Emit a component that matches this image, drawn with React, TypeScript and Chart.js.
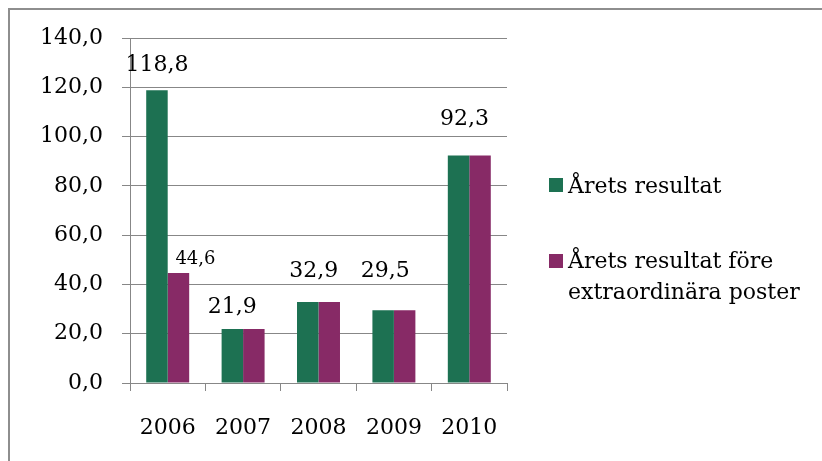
import React, { useEffect, useRef } from 'react';
import { Chart, registerables } from 'chart.js';

Chart.register(...registerables);

// ---------- data ----------
const categories = ['2006', '2007', '2008', '2009', '2010'];
const aretsResultat = [118.8, 21.9, 32.9, 29.5, 92.3];
const foreExtraordinara = [44.6, 21.9, 32.9, 29.5, 92.3];
const seriesNames = ['Årets resultat', 'Årets resultat före extraordinära poster'];
const yMin = 0;
const yMax = 140;
const yStep = 20;
// bars that carry a value label: [seriesIndex, categoryIndex]
const labelledBars: [number, number][] = [[0, 0], [1, 0], [0, 1], [0, 2], [0, 3], [0, 4]];

// ---------- style ----------
const FONT = "'DejaVu Serif', 'Liberation Serif', serif";
const GREEN = '#1D7152';
const PURPLE = '#872A66';
const GRID = '#878787';
const labelPlacement = [
  { dx: 0, dy: 25, size: 22 },
  { dx: 17, dy: 14, size: 18 },
  { dx: 0, dy: 22, size: 22 },
  { dx: 6, dy: 31, size: 22 },
  { dx: 2, dy: 39, size: 22 },
  { dx: 6, dy: 36, size: 22 },
];

const fmt = (v: number) => v.toFixed(1).replace('.', ',');

function wrap(ctx: CanvasRenderingContext2D, text: string, maxW: number): string[] {
  const words = text.split(' ');
  const lines: string[] = [];
  let cur = '';
  for (const w of words) {
    const test = cur ? cur + ' ' + w : w;
    if (ctx.measureText(test).width > maxW && cur) {
      lines.push(cur);
      cur = w;
    } else cur = test;
  }
  if (cur) lines.push(cur);
  return lines;
}

const framePlugin = {
  id: 'frame',
  beforeDraw(chart: any) {
    const ctx = chart.ctx;
    ctx.save();
    ctx.fillStyle = '#ffffff';
    ctx.fillRect(0, 0, chart.width, chart.height);
    ctx.restore();
  },
  afterDraw(chart: any) {
    const ctx = chart.ctx;
    ctx.save();
    ctx.fillStyle = '#8e8e8e';
    ctx.fillRect(8, 8, chart.width - 8, 2);
    ctx.fillRect(8, 8, 2, chart.height - 8);
    ctx.restore();
  },
};

const valueLabelPlugin = {
  id: 'valueLabels',
  afterDatasetsDraw(chart: any) {
    const ctx = chart.ctx;
    ctx.save();
    ctx.fillStyle = '#000';
    ctx.textAlign = 'center';
    ctx.textBaseline = 'middle';
    labelledBars.forEach(([s, i], k) => {
      const el = chart.getDatasetMeta(s).data[i];
      const v = chart.data.datasets[s].data[i] as number;
      const p = labelPlacement[k];
      ctx.font = `${p.size}px ${FONT}`;
      ctx.fillText(fmt(v), el.x + p.dx, el.y - p.dy);
    });
    ctx.restore();
  },
};

const sideLegendPlugin = {
  id: 'sideLegend',
  afterDraw(chart: any) {
    const ctx = chart.ctx;
    ctx.save();
    ctx.font = `22px ${FONT}`;
    ctx.textAlign = 'left';
    ctx.textBaseline = 'alphabetic';
    const slots = [
      { sq: 178, base: 193 },
      { sq: 254, base: 268 },
    ];
    chart.data.datasets.forEach((ds: any, i: number) => {
      const slot = slots[i];
      ctx.fillStyle = ds.backgroundColor;
      ctx.fillRect(549, slot.sq, 14, 14);
      ctx.fillStyle = '#000';
      wrap(ctx, ds.label, 245).forEach((ln, j) => ctx.fillText(ln, 568, slot.base + j * 31));
    });
    ctx.restore();
  },
};

export default function App() {
  const ref = useRef<HTMLCanvasElement>(null);
  useEffect(() => {
    if (!ref.current) return;
    const chart = new Chart(ref.current, {
      type: 'bar',
      data: {
        labels: categories,
        datasets: [
          { label: seriesNames[0], data: aretsResultat, backgroundColor: GREEN },
          { label: seriesNames[1], data: foreExtraordinara, backgroundColor: PURPLE },
        ],
      },
      options: {
        responsive: false,
        animation: false,
        devicePixelRatio: 1,
        datasets: { bar: { categoryPercentage: 0.57, barPercentage: 1.0 } },
        layout: { padding: { top: 38, right: 315, bottom: 0, left: 0 } },
        plugins: { legend: { display: false }, tooltip: { enabled: false } },
        scales: {
          x: {
            offset: true,
            grid: { offset: true, drawOnChartArea: false, drawTicks: true, tickLength: 8, color: GRID, lineWidth: 1 },
            border: { display: true, color: GRID, width: 1 },
            ticks: { font: { family: FONT, size: 22 }, color: '#000', padding: 24, maxRotation: 0 },
            afterFit: (s: any) => { s.height = 78; },
          },
          y: {
            min: yMin,
            max: yMax,
            grid: { color: GRID, lineWidth: 1, drawTicks: true, tickLength: 8 },
            border: { display: true, color: GRID, width: 1 },
            ticks: {
              stepSize: yStep,
              padding: 19,
              color: '#000',
              font: { family: FONT, size: 22 },
              callback: (v: any) => fmt(Number(v)),
            },
            afterFit: (s: any) => { s.width = 130; },
          },
        },
      },
      plugins: [framePlugin, valueLabelPlugin, sideLegendPlugin],
    });
    return () => chart.destroy();
  }, []);
  return (
    <div style={{ position: 'fixed', left: 0, top: 0, width: 822, height: 461, background: '#fff' }}>
      <canvas ref={ref} width={822} height={461} style={{ display: 'block' }} />
    </div>
  );
}
